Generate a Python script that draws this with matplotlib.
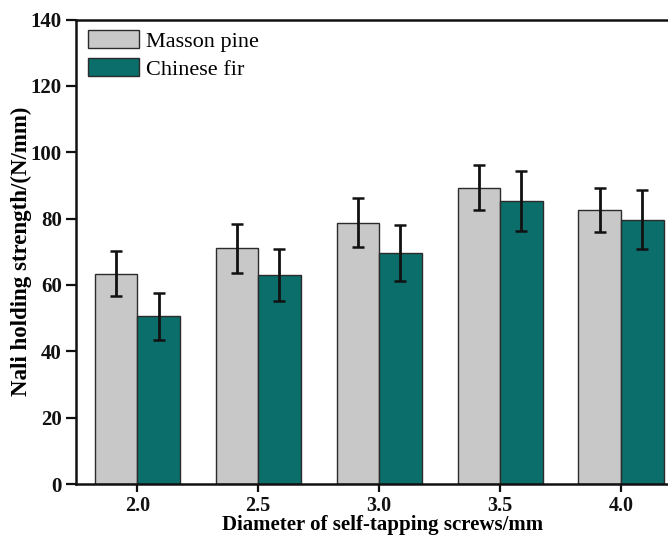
import matplotlib
matplotlib.use("Agg")
import matplotlib.pyplot as plt
import numpy as np

# Screw diameters (mm) and nail holding strength (N/mm)
diameters = ["2.0", "2.5", "3.0", "3.5", "4.0"]
masson_pine = [63.4, 71.0, 78.8, 89.3, 82.7]
masson_pine_err = [6.8, 7.5, 7.4, 6.7, 6.6]
chinese_fir = [50.5, 63.1, 69.6, 85.2, 79.7]
chinese_fir_err = [7.1, 7.8, 8.4, 9.0, 8.8]

plt.rcParams["font.family"] = ["Liberation Serif", "DejaVu Serif"]

fig = plt.figure(figsize=(6.68, 5.37), dpi=100)
ax = fig.add_axes([75.7 / 668, 53 / 537, (690 - 75.7) / 668, (484 - 19.5) / 537])

x = np.arange(len(diameters))
w = 0.352
grey = "#c8c8c8"
teal = "#0b6e6b"
edge = "#2b2b2b"

ax.bar(x - w / 2, masson_pine, w, color=grey, edgecolor=edge, linewidth=1.0,
       label="Masson pine", zorder=2)
ax.bar(x + w / 2, chinese_fir, w, color=teal, edgecolor=edge, linewidth=1.0,
       label="Chinese fir", zorder=2)

err_kw = dict(fmt="none", ecolor="#111111", elinewidth=2.0, capsize=4, capthick=1.8, zorder=3)
ax.errorbar(x - w / 2, masson_pine, yerr=masson_pine_err, **err_kw)
ax.errorbar(x + w / 2, chinese_fir, yerr=chinese_fir_err, **err_kw)

ax.set_xlim(-0.509, 4 + (690 - 621) / 121)
ax.set_ylim(0, 140)
ax.set_yticks(np.arange(0, 141, 20))
ax.set_xticks(x)
ax.set_xticklabels(diameters)

for s in ["left", "bottom", "top"]:
    ax.spines[s].set_linewidth(1.8)
    ax.spines[s].set_color("#111111")
ax.spines["right"].set_visible(False)

ax.tick_params(axis="both", direction="out", length=7, width=1.6, colors="#111111",
               labelsize=15)
ax.tick_params(axis="x", length=6, pad=2.5, labelsize=14.5)
ax.tick_params(axis="y", pad=3)
for lab in ax.get_xticklabels() + ax.get_yticklabels():
    lab.set_fontweight("bold")

ax.set_xlabel("Diameter of self-tapping screws/mm", fontsize=15, fontweight="bold", labelpad=-0.5)
ax.set_ylabel("Nali holding strength/(N/mm)", fontsize=16.5, fontweight="bold", labelpad=-1)

leg = ax.legend(loc="upper left", bbox_to_anchor=(88 / 668, (537 - 30) / 537),
                bbox_transform=fig.transFigure, frameon=False, fontsize=16,
                handlelength=2.3, handleheight=0.86, handletextpad=0.3,
                labelspacing=0.3, borderpad=0, borderaxespad=0)

fig.savefig("out.png", dpi=100)
